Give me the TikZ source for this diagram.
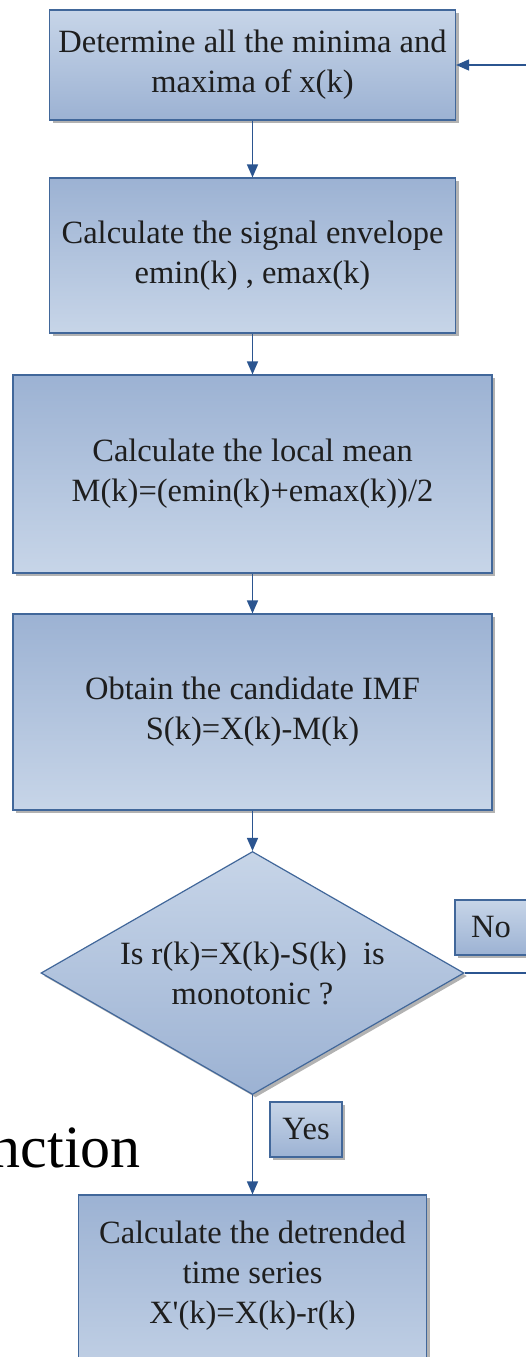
\documentclass[tikz,border=0pt]{standalone}
\usepackage{fontspec}
\setmainfont{Liberation Serif}[Ligatures=TeXOff]
\usetikzlibrary{arrows.meta,shapes.geometric,shadows}
\definecolor{boxlight}{HTML}{C7D5E8}
\definecolor{boxdark}{HTML}{9CB2D3}
\definecolor{edgeblue}{HTML}{41679A}
\definecolor{arrowblue}{HTML}{2B5590}
\definecolor{txt}{HTML}{1E1E1E}
\tikzset{
  shapebase/.style={draw=edgeblue, line width=1.2pt, align=center, text=txt,
    font=\fontsize{32.5}{40}\selectfont, inner sep=0pt,
    drop shadow={shadow xshift=3pt, shadow yshift=-3pt, fill=black, opacity=0.3}},
  lighttop/.style={shapebase, top color=boxlight, bottom color=boxdark},
  darktop/.style={shapebase, top color=boxdark, bottom color=boxlight},
  procbox/.style={rectangle},
  label/.style={text=txt, font=\fontsize{32.5}{40}\selectfont, align=center, inner sep=0pt},
  arr/.style={draw=arrowblue, line width=1.5pt, -{Triangle[width=11pt,length=13pt]}},
  plainline/.style={draw=arrowblue, line width=1.5pt}
}
\begin{document}
\begin{tikzpicture}[x=1pt,y=-1pt]
\clip (0,0) rectangle (526,1357);
\fill[white] (0,0) rectangle (526,1357);

\node[lighttop, procbox, minimum width=406pt, minimum height=110pt] (b1) at (252.5,65)
  {Determine all the minima and\\maxima of x(k)};
\node[darktop, procbox, minimum width=406pt, minimum height=155pt] (b2) at (252.5,255.5)
  {Calculate the signal envelope\\emin(k) , emax(k)};
\node[darktop, procbox, minimum width=479pt, minimum height=198pt] (b3) at (252.5,474)
  {Calculate the local mean\\M(k)=(emin(k)+emax(k))/2};
\node[darktop, procbox, minimum width=479pt, minimum height=196pt] (b4) at (252.5,712)
  {Obtain the candidate IMF\\S(k)=X(k)-M(k)};
\node[lighttop, diamond, minimum width=423pt, minimum height=243pt] (dec) at (252.5,973) {};
\node[label] (dectext) at (dec.center) {Is r(k)=X(k)-S(k)\ \ is\\monotonic ?};
\node[lighttop, procbox, minimum width=72pt, minimum height=55pt] (no) at (491,927.5) {No};
\node[lighttop, procbox, minimum width=72pt, minimum height=55pt] (yes) at (306,1129.5) {Yes};
\node[darktop, procbox, minimum width=348pt, minimum height=205pt] (b5) at (252.5,1297.5) {};
\node[label] (b5text) at (252.5,1276) {Calculate the detrended\\time series\\X'(k)=X(k)-r(k)};

\node[anchor=base east, inner sep=0pt, font=\fontsize{60}{72}\selectfont, text=black] (frag) at (141,1167) {nction};

\coordinate (loopin) at (530,65);
\coordinate (loopout) at (530,973);

\draw[arr] (b1) -- (b2);
\draw[arr] (b2) -- (b3);
\draw[arr] (b3) -- (b4);
\draw[arr] (b4) -- (dec);
\draw[arr] (dec) -- (b5);
\draw[plainline] (dec.east) -- (loopout);
\draw[arr] (loopin) -- (b1.east);
\end{tikzpicture}
\end{document}
